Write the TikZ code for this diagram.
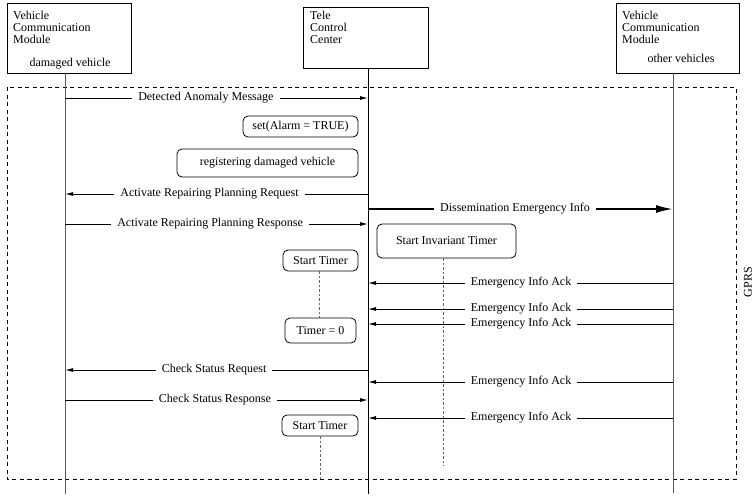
\documentclass[tikz,border=0pt]{standalone}
\usepackage{fontspec}
\setmainfont{Liberation Serif}
\usetikzlibrary{arrows.meta,calc}
\begin{document}
\begin{tikzpicture}[x=1pt,y=-1pt,
  every node/.style={font=\fontsize{12}{12}\selectfont, inner sep=0pt},
  obj/.style={draw, line width=0.9pt, minimum width=#1},
  actbox/.style={draw, line width=0.8pt, rounded corners=5pt},
  life/.style={line width=1pt, draw=black!65},
  lifec/.style={line width=1pt, draw=black},
  msg/.style={line width=0.9pt, -{Latex[length=8pt,width=4pt]}},
  bigmsg/.style={line width=2pt, -{Latex[length=17pt,width=8pt]}},
  lbl/.style={fill=white, inner xsep=6pt, inner ysep=1pt},
  timeline/.style={line width=0.8pt, draw=black!60, dash pattern=on 2.5pt off 2pt},
  frame/.style={line width=0.8pt, dash pattern=on 4pt off 3.5pt}
]
\useasboundingbox (0,0) rectangle (755,496);

% frame
\draw[frame] (7,87) rectangle (736,479);
\node[rotate=90] (gprs) at (748,282) {GPRS};

% objects
\node[obj, minimum width=124pt, minimum height=70pt] (b1) at (69,38) {};
\node[obj, minimum width=125pt, minimum height=61pt] (b2) at (365.5,37.5) {};
\node[obj, minimum width=123pt, minimum height=70pt] (b3) at (677.5,38) {};

\node[anchor=base west] (b1t1) at (13,19) {Vehicle};
\node[anchor=base west] (b1t2) at (13,31) {Communication};
\node[anchor=base west] (b1t3) at (13,43) {Module};
\node[anchor=base] (b1t4) at (70,66) {damaged vehicle};

\node[anchor=base west] (b2t1) at (310,19) {Tele};
\node[anchor=base west] (b2t2) at (310,31) {Control};
\node[anchor=base west] (b2t3) at (310,43) {Center};

\node[anchor=base west] (b3t1) at (622,19) {Vehicle};
\node[anchor=base west] (b3t2) at (622,31) {Communication};
\node[anchor=base west] (b3t3) at (622,43) {Module};
\node[anchor=base] (b3t4) at (681,62) {other vehicles};

% lifelines
\coordinate (A) at (65,0);
\coordinate (B) at (368,0);
\coordinate (C) at (673,0);
\coordinate (Aend) at (65,494);
\coordinate (Bend) at (368,494);
\coordinate (Cend) at (673,493);
\draw[life] (b1.south -| A) -- (Aend);
\draw[lifec] (b2.south -| B) -- (Bend);
\draw[life] (b3.south -| C) -- (Cend);

% actions
\node[actbox, minimum width=115pt, minimum height=21pt] (alarm) at (300.5,126.5) {set(Alarm = TRUE)};
\node[actbox, minimum width=181pt, minimum height=28pt] (reg) at (267.5,163) {registering damaged vehicle};
\node[actbox, minimum width=139pt, minimum height=34pt] (inv) at (446.5,241) {Start Invariant Timer};
\node[actbox, minimum width=75pt, minimum height=21pt] (st1) at (320.5,260.5) {Start Timer};
\node[actbox, minimum width=71pt, minimum height=25pt] (t0) at (320.5,330.5) {Timer = 0};
\node[actbox, minimum width=76pt, minimum height=21pt] (st2) at (320,425.5) {Start Timer};

\coordinate (invend) at (443,466);
\coordinate (st2end) at (320,480);
\draw[timeline] (st1.south -| 319,0) -- (t0.north -| 319,0);
\draw[timeline] (inv.south -| invend) -- (invend);
\draw[timeline] (st2.south -| st2end) -- (st2end);

% messages
\draw[msg] ($(A)+(0,98)$) -- node[lbl, pos=0.465] (m1) {Detected Anomaly Message} ($(B)+(0,98)$);
\draw[msg] ($(B)+(0,194)$) -- node[lbl, pos=0.523] (m2) {Activate Repairing Planning Request} ($(A)+(0,194)$);
\draw[bigmsg] ($(B)+(0,209)$) -- node[lbl, pos=0.482] (m3) {Dissemination Emergency Info} ($(C)+(0,209)$);
\draw[msg] ($(A)+(0,224)$) -- node[lbl, pos=0.479] (m4) {Activate Repairing Planning Response} ($(B)+(0,224)$);
\draw[msg] ($(C)+(0,283)$) -- node[lbl, pos=0.498] (a1) {Emergency Info Ack} ($(B)+(0,283)$);
\draw[msg] ($(C)+(0,309)$) -- node[lbl, pos=0.498] (a2) {Emergency Info Ack} ($(B)+(0,309)$);
\draw[msg] ($(C)+(0,324)$) -- node[lbl, pos=0.498, inner ysep=0pt] (a3) {Emergency Info Ack} ($(B)+(0,324)$);
\draw[msg] ($(B)+(0,370)$) -- node[lbl, pos=0.508] (m5) {Check Status Request} ($(A)+(0,370)$);
\draw[msg] ($(C)+(0,382)$) -- node[lbl, pos=0.498] (a4) {Emergency Info Ack} ($(B)+(0,382)$);
\draw[msg] ($(A)+(0,400)$) -- node[lbl, pos=0.495] (m6) {Check Status Response} ($(B)+(0,400)$);
\draw[msg] ($(C)+(0,418)$) -- node[lbl, pos=0.498] (a5) {Emergency Info Ack} ($(B)+(0,418)$);
\end{tikzpicture}
\end{document}
